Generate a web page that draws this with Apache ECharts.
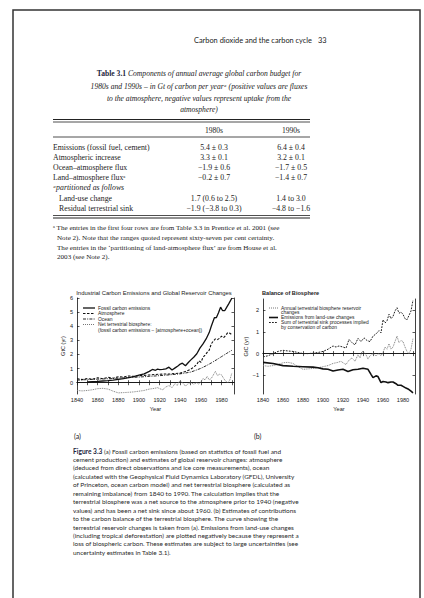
<!DOCTYPE html>
<html><head><meta charset="utf-8">
<script src="https://cdn.jsdelivr.net/npm/echarts@6/dist/echarts.min.js"></script>
<style>html,body{margin:0;padding:0;background:#fff}#c{width:424px;height:598px}</style>
</head><body><div id="c"></div>
<script>
// ---------- Table 3.1 ----------
const tableTitle = [
  "{b|Table 3.1} {i|Components of annual average global carbon budget for}",
  "1980s and 1990s – in Gt of carbon per year\u1d43 (positive values are fluxes",
  "to the atmosphere, negative values represent uptake from the",
  "atmosphere)"
];
const tableColumns = ["1980s", "1990s"];
const rowLabels = ["Emissions (fossil fuel, cement)", "Atmospheric increase", "Ocean–atmosphere flux",
  "Land–atmosphere flux\u1d43", "\u1d43partitioned as follows", "Land-use change", "Residual terrestrial sink"];
const col1980s = ["5.4 ± 0.3", "3.3 ± 0.1", "−1.9 ± 0.6", "−0.2 ± 0.7", "", "1.7 (0.6 to 2.5)", "−1.9 (−3.8 to 0.3)"];
const col1990s = ["6.4 ± 0.4", "3.2 ± 0.1", "−1.7 ± 0.5", "−1.4 ± 0.7", "", "1.4 to 3.0", "−4.8 to −1.6"];
const footnote = [
  "\u1d43 The entries in the first four rows are from Table 3.3 in Prentice et al. 2001 (see",
  "Note 2). Note that the ranges quoted represent sixty-seven per cent certainty.",
  "The entries in the ‘partitioning of land-atmosphere flux’ are from House et al.",
  "2003 (see Note 2)."
];
const caption = [
  "{b|Figure 3.3} (a) Fossil carbon emissions (based on statistics of fossil fuel and",
  "cement production) and estimates of global reservoir changes: atmosphere",
  "(deduced from direct observations and ice core measurements), ocean",
  "(calculated with the Geophysical Fluid Dynamics Laboratory (GFDL), University",
  "of Princeton, ocean carbon model) and net terrestrial biosphere (calculated as",
  "remaining imbalance) from 1840 to 1990. The calculation implies that the",
  "terrestrial biosphere was a net source to the atmosphere prior to 1940 (negative",
  "values) and has been a net sink since about 1960. (b) Estimates of contributions",
  "to the carbon balance of the terrestrial biosphere. The curve showing the",
  "terrestrial reservoir changes is taken from (a). Emissions from land-use changes",
  "(including tropical deforestation) are plotted negatively because they represent a",
  "loss of biospheric carbon. These estimates are subject to large uncertainties (see",
  "uncertainty estimates in Table 3.1)."
];

// ---------- Chart (a) ----------
const xTickLabels = [1840, 1860, 1880, 1900, 1920, 1940, 1960, 1980];
const xTickMarks = [1840, 1850, 1860, 1870, 1880, 1890, 1900, 1910, 1920, 1930, 1940, 1950, 1960, 1970, 1980, 1990];
const yTicksA = [0, 1, 2, 3, 4, 5, 6];
const yTicksB = [-1, 0, 1, 2];

const fossilYears = [1850,1855,1860,1865,1870,1875,1880,1885,1890,1895,1900,1905,1910,1913,1916,1918,1920,1923,1926,1929,1932,1935,1938,1940,1942,1945,1948,1950,1953,1956,1959,1962,1965,1968,1970,1973,1975,1977,1979,1981,1983,1985,1987,1990];
const fossilValues = [0.05,0.07,0.09,0.12,0.15,0.19,0.24,0.29,0.36,0.43,0.53,0.62,0.80,0.94,0.88,0.96,0.93,0.95,0.98,1.10,0.90,1.05,1.20,1.32,1.38,1.20,1.45,1.60,1.80,2.05,2.45,2.75,3.10,3.55,4.00,4.60,4.62,4.95,5.35,5.10,5.10,5.35,5.60,6.00];

const atmYears = [1840,1845,1850,1855,1860,1865,1870,1875,1880,1885,1890,1895,1900,1905,1910,1915,1920,1925,1930,1935,1940,1945,1950,1953,1956,1958,1960,1962,1964,1966,1968,1970,1972,1974,1976,1978,1980,1982,1984,1986,1988,1990];
const atmValues = [0.28,0.22,0.30,0.25,0.35,0.28,0.38,0.32,0.42,0.40,0.48,0.45,0.50,0.52,0.55,0.58,0.60,0.62,0.62,0.65,0.68,0.80,0.95,1.10,1.30,1.55,1.45,1.80,1.95,2.15,2.30,2.75,2.95,3.10,3.05,3.15,3.30,3.20,3.35,3.55,3.50,3.40];

const oceanYears = [1840,1850,1860,1870,1880,1890,1900,1910,1920,1930,1940,1950,1955,1960,1965,1970,1975,1980,1985,1990];
const oceanValues = [0.18,0.22,0.25,0.28,0.32,0.36,0.40,0.45,0.50,0.56,0.63,0.75,0.88,1.02,1.20,1.40,1.62,1.85,2.08,2.30];

const terrYears = [1840,1845,1850,1855,1860,1865,1870,1875,1880,1885,1890,1895,1900,1905,1910,1915,1918,1920,1923,1926,1929,1932,1935,1937,1939,1941,1943,1945,1947,1950,1953,1956,1958,1960,1962,1964,1966,1968,1970,1972,1974,1976,1978,1980,1982,1984,1986,1988,1990];
const terrValues = [-0.55,-0.58,-0.55,-0.50,-0.42,-0.40,-0.45,-0.60,-0.72,-0.70,-0.68,-0.65,-0.60,-0.55,-0.45,-0.40,-0.35,-0.42,-0.50,-0.30,-0.20,-0.35,-0.05,-0.20,0.10,0.05,-0.05,-0.25,-0.10,0.00,-0.10,0.00,-0.10,0.05,0.30,0.20,0.45,0.20,0.30,0.55,0.80,0.50,0.60,0.55,0.30,0.10,0.00,0.20,0.70];

// ---------- Chart (b) ----------
const landUseYears = [1840,1850,1860,1870,1880,1890,1895,1900,1905,1910,1915,1920,1925,1930,1935,1940,1945,1948,1950,1953,1955,1958,1960,1963,1965,1968,1970,1973,1975,1978,1980,1983,1985,1988,1990];
const landUseValues = [-0.40,-0.45,-0.55,-0.58,-0.60,-0.62,-0.65,-0.70,-0.72,-0.80,-0.75,-0.72,-0.82,-0.74,-0.72,-0.67,-0.72,-0.95,-1.10,-1.02,-1.05,-1.33,-1.28,-1.30,-1.33,-1.30,-1.30,-1.38,-1.45,-1.45,-1.50,-1.58,-1.62,-1.72,-1.80];

const sumYears = [1840,1845,1850,1855,1860,1865,1870,1875,1880,1885,1890,1895,1900,1905,1910,1913,1916,1920,1923,1926,1929,1932,1935,1938,1941,1944,1947,1950,1953,1956,1958,1960,1962,1964,1966,1968,1970,1972,1974,1976,1978,1980,1982,1984,1986,1988,1990];
const sumValues = [-0.15,-0.10,0.00,0.10,0.15,0.12,0.10,0.05,0.00,0.00,0.02,0.05,0.10,0.20,0.35,0.30,0.35,0.30,0.25,0.65,0.50,0.40,0.70,0.55,0.72,0.60,0.55,0.80,0.90,1.05,0.95,1.55,1.40,1.50,1.80,1.60,1.70,1.95,2.10,1.85,1.90,1.80,1.60,1.55,1.75,1.95,2.45];

const legendA = ["Fossil carbon emissions", "Atmosphere", "Ocean", "Net terrestrial biosphere:", "(fossil carbon emissions − [atmosphere+ocean])"];
const legendB = ["Annual terrestrial biosphere reservoir", "changes", "Emissions from land-use changes", "Sum of terrestrial sink processes implied", "by conservation of carbon"];

// ---------- build ----------
const pts = (xs, ys) => xs.map((x, i) => [x, ys[i]]);
const SERIF = '"Liberation Serif", "DejaVu Serif", serif';
const SANS = 'Lato, "Open Sans", sans-serif';
const CHART = '"Liberation Sans", Arial, sans-serif';
const INK = '#222';

const G = [];
const txt = (text, x, y, font, align, extra) => G.push(Object.assign({
  type: 'text', x: x, y: y, silent: true,
  style: { text: text, font: font, fill: INK, textAlign: align || 'left', textVerticalAlign: 'middle' }
}, extra || {}));
const ln = (x1, y1, x2, y2, w, color, dash) => G.push({
  type: 'line', silent: true, shape: { x1, y1, x2, y2 },
  style: { stroke: color || INK, lineWidth: w || 1, lineDash: dash || null }
});

// page frame
G.push({ type: 'polyline', silent: true, shape: { points: [[13, 610], [13, 10], [420, 10], [420, 610]] },
  style: { stroke: '#333', lineWidth: 1.5, fill: null } });

// running head
txt("Carbon dioxide and the carbon cycle", 312, 40, '7.4px ' + SANS, 'right');
txt("33", 318, 40, '7.4px ' + SANS, 'left');

// table title
const titleY = [73, 86, 98, 109];
tableTitle.forEach((t, i) => {
  G.push({ type: 'text', x: 199, y: titleY[i], silent: true,
    style: { text: i === 0 ? t : '{i|' + t + '}', textAlign: 'center', textVerticalAlign: 'middle', fill: INK,
      font: 'italic 7.6px ' + SERIF,
      rich: { b: { font: 'bold 7.6px ' + SERIF, fill: '#1d2540' }, i: { font: 'italic 7.6px ' + SERIF, fill: INK } } } });
});
const TL = 53, TR = 310, C1 = 214, C2 = 291;
ln(TL, 119.5, TR, 119.5, 1.2); ln(TL, 122, TR, 122, 0.8);
txt(tableColumns[0], C1, 130, '7.6px ' + SERIF, 'center');
txt(tableColumns[1], C2, 130, '7.6px ' + SERIF, 'center');
ln(TL, 137, TR, 137, 0.8);
const rowY = [147, 157.2, 167.4, 177.6, 187.8, 198, 208.2];
rowLabels.forEach((r, i) => {
  const indent = (i >= 5) ? 6 : 0;
  txt(r, TL + indent, rowY[i], (i === 4 ? 'italic ' : '') + '7.8px ' + SERIF, 'left');
  if (col1980s[i]) txt(col1980s[i], C1, rowY[i], '7.8px ' + SERIF, 'center');
  if (col1990s[i]) txt(col1990s[i], C2, rowY[i], '7.8px ' + SERIF, 'center');
});
ln(TL, 215.5, TR, 215.5, 0.8); ln(TL, 218, TR, 218, 1.2);
const footY = [228, 237.8, 247.6, 257.4];
footnote.forEach((f, i) => txt(f, i === 0 ? TL : TL + 4, footY[i], '7.1px ' + SERIF, 'left'));

// chart texts
txt("Industrial Carbon Emissions and Global Reservoir Changes", 154, 293, '5.9px ' + CHART, 'center');
txt("Balance of Biosphere", 262, 293, 'bold 5.6px ' + CHART, 'left');
txt("(a)", 74, 436, '7px ' + SANS, 'left');
txt("(b)", 254, 436, '7px ' + SANS, 'left');

// legend (a)
const legAY = [308, 313.5, 319, 324.5, 330];
ln(83, legAY[0], 95, legAY[0], 1.3, '#111');
ln(83, legAY[1], 95, legAY[1], 1, '#111', [2.5, 1.5]);
ln(83, legAY[2], 95, legAY[2], 0.9, '#111', [3, 1.2, 1, 1.2]);
ln(83, legAY[3], 95, legAY[3], 0.9, '#666', [1, 1]);
legendA.forEach((t, i) => txt(t, 98, legAY[i], '4.9px ' + CHART, 'left'));

// legend (b)
const legBY = [308, 312.5, 317.5, 322.5, 327];
ln(269, legBY[0], 278, legBY[0], 0.9, '#666', [1, 1]);
ln(269, legBY[2], 278, legBY[2], 1.6, '#111');
ln(269, legBY[3], 278, legBY[3], 1, '#222', [1.8, 1.2]);
legendB.forEach((t, i) => txt(t, 281, legBY[i], '4.9px ' + CHART, 'left'));

// caption
const capY0 = 451, capDY = 8.45;
caption.forEach((c, i) => {
  G.push({ type: 'text', x: 73, y: capY0 + i * capDY, silent: true,
    style: { text: c, textAlign: 'left', textVerticalAlign: 'middle', fill: '#2a2a2a', font: '6.45px ' + SANS,
      rich: { b: { font: 'bold 6.6px ' + SANS, fill: '#1d2540' } } } });
});

// axes
function axesFor(gi, ymin, ymax, yticks) {
  const lineS = { show: true, lineStyle: { color: '#111', width: 0.8 } };
  const x = [
    { gridIndex: gi, type: 'value', min: 1840, max: 1992, position: 'bottom',
      axisLine: lineS, splitLine: { show: false },
      axisTick: { show: true, inside: true, length: 2.5, customValues: xTickMarks, lineStyle: { color: '#111', width: 0.7 } },
      axisLabel: { show: true, customValues: xTickLabels, fontSize: 5.6, color: INK, margin: 3, fontFamily: CHART,
        formatter: v => String(v) },
      name: 'Year', nameLocation: 'middle', nameGap: 12,
      nameTextStyle: { fontSize: 5.6, color: INK, fontFamily: CHART } },
    { gridIndex: gi, type: 'value', min: 1840, max: 1992, position: 'top',
      axisLine: lineS, splitLine: { show: false },
      axisTick: { show: true, inside: true, length: 2.5, customValues: xTickMarks, lineStyle: { color: '#111', width: 0.7 } },
      axisLabel: { show: false } }
  ];
  const y = [
    { gridIndex: gi, type: 'value', min: ymin, max: ymax, position: 'left',
      axisLine: lineS, splitLine: { show: false },
      axisTick: { show: true, inside: true, length: 2.5, customValues: yticks, lineStyle: { color: '#111', width: 0.7 } },
      axisLabel: { show: true, customValues: yticks, fontSize: 5.6, color: INK, margin: 4, fontFamily: CHART,
        formatter: v => (v < 0 ? '−' + Math.abs(v) : String(v)) },
      name: 'GtC (yr)', nameLocation: 'middle', nameRotate: 90, nameGap: 11,
      nameTextStyle: { fontSize: 5.6, color: INK, fontFamily: CHART } },
    { gridIndex: gi, type: 'value', min: ymin, max: ymax, position: 'right',
      axisLine: lineS, splitLine: { show: false },
      axisTick: { show: true, inside: true, length: 2.5, customValues: yticks, lineStyle: { color: '#111', width: 0.7 } },
      axisLabel: { show: false } }
  ];
  return { x, y };
}
const A = axesFor(0, -0.8, 6, yTicksA);
const B = axesFor(1, -1.85, 2.5, yTicksB);

const mk = (name, xs, ys, xi, yi, ls) => ({
  name, type: 'line', xAxisIndex: xi, yAxisIndex: yi, data: pts(xs, ys),
  showSymbol: false, symbol: 'none', silent: true, lineStyle: ls, z: 3
});

const chart = echarts.init(document.getElementById('c'), null, { renderer: 'svg' });
chart.setOption({
  animation: false,
  backgroundColor: '#fff',
  grid: [
    { left: 77, top: 298, width: 157, height: 96 },
    { left: 263, top: 299, width: 152, height: 95 }
  ],
  xAxis: A.x.concat(B.x),
  yAxis: A.y.concat(B.y),
  series: [
    mk('Net terrestrial', terrYears, terrValues, 0, 0, { color: '#777', width: 0.9, type: [1, 0.8] }),
    mk('Ocean', oceanYears, oceanValues, 0, 0, { color: '#111', width: 0.9, type: [3, 1.2, 1, 1.2] }),
    mk('Atmosphere', atmYears, atmValues, 0, 0, { color: '#111', width: 1.1, type: [2.5, 1.5] }),
    mk('Fossil', fossilYears, fossilValues, 0, 0, { color: '#111', width: 1.3, type: 'solid' }),
    mk('Annual terrestrial', terrYears, terrValues, 2, 2, { color: '#777', width: 0.9, type: [1, 0.8] }),
    mk('Land use', landUseYears, landUseValues, 2, 2, { color: '#111', width: 1.6, type: 'solid' }),
    mk('Sum', sumYears, sumValues, 2, 2, { color: '#222', width: 1, type: [1.8, 1.2] })
  ],
  graphic: { elements: G }
});
</script></body></html>
